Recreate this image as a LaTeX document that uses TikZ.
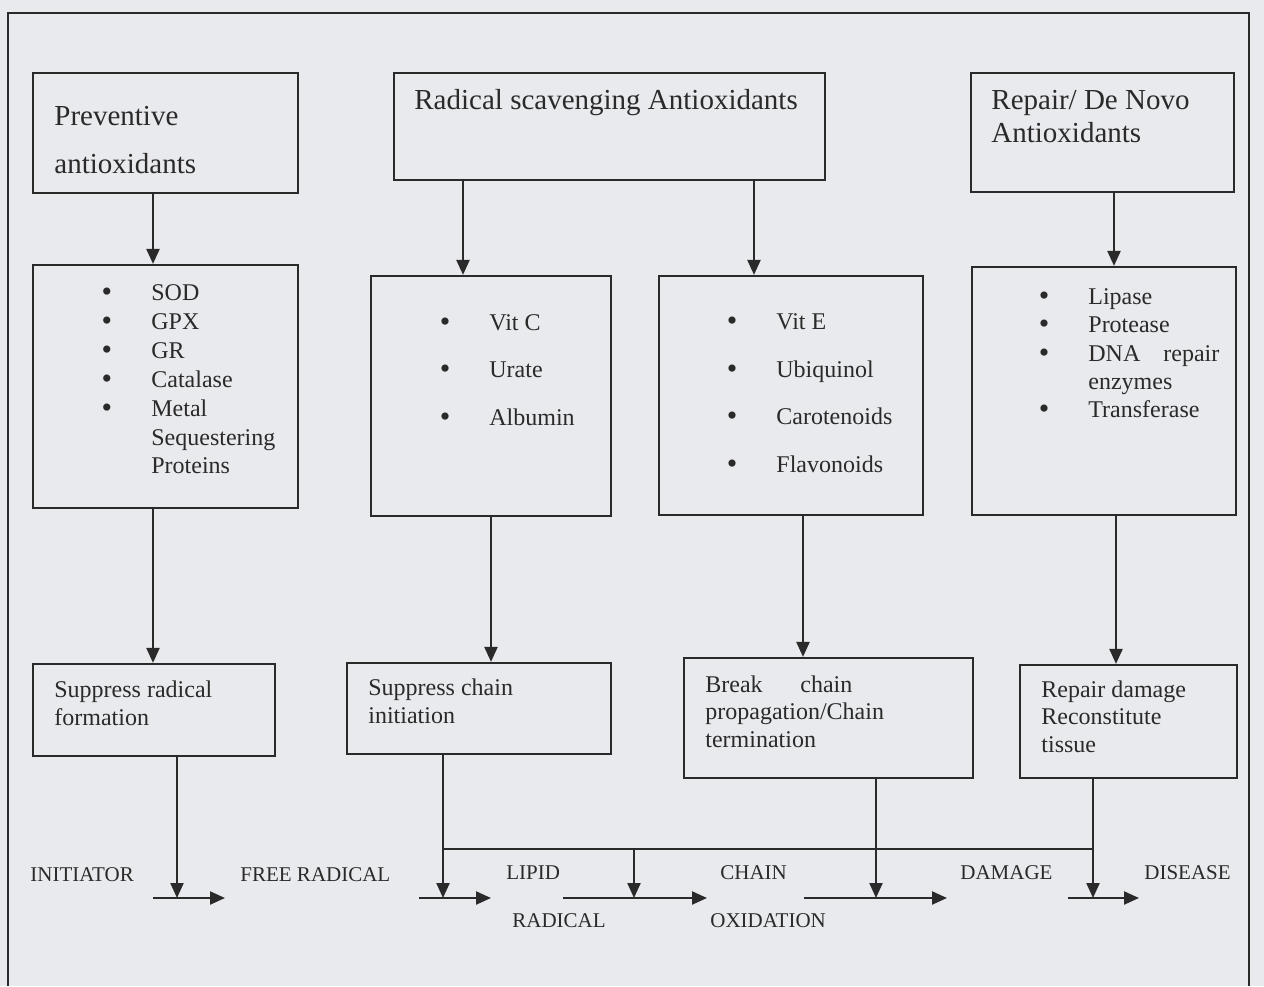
\documentclass[tikz,border=0pt]{standalone}
\usepackage{fontspec}
\setmainfont{Liberation Serif}
\usetikzlibrary{arrows.meta,fit}
\definecolor{bgc}{RGB}{233,234,237}
\definecolor{ink}{RGB}{42,42,42}
\begin{document}
\begin{tikzpicture}[x=0.5pt,y=-0.5pt,
  box/.style={draw=ink,line width=1.1pt,inner sep=0pt},
  hd/.style={anchor=base west,inner sep=0pt,text=ink,font=\fontsize{14.5}{17}\selectfont},
  tx/.style={anchor=base west,inner sep=0pt,text=ink,font=\fontsize{12}{14}\selectfont},
  bl/.style={anchor=base,inner sep=0pt,text=ink,font=\fontsize{15}{14}\selectfont},
  lb/.style={anchor=base west,inner sep=0pt,text=ink,font=\fontsize{10.5}{12}\selectfont},
  arr/.style={draw=ink,line width=1.1pt,-{Triangle[length=7.5pt,width=6.5pt]}},
  ln/.style={draw=ink,line width=1.1pt},
]
\useasboundingbox (0,0) rectangle (1264,986);
\fill[bgc] (0,0) rectangle (1264,986);
% outer frame
\draw[ln] (8,986) -- (8,13) -- (1249,13) -- (1249,986);

% ---------- boxes ----------
\node[box,fit={(33,73)(298,193)}] (pa) {};
\node[box,fit={(394,73)(825,180)}] (rs) {};
\node[box,fit={(971,73)(1234,192)}] (rd) {};
\node[box,fit={(33,265)(298,508)}] (sod) {};
\node[box,fit={(371,276)(611,516)}] (vc) {};
\node[box,fit={(659,276)(923,515)}] (ve) {};
\node[box,fit={(972,267)(1236,515)}] (lip) {};
\node[box,fit={(33,664)(275,756)}] (srf) {};
\node[box,fit={(347,663)(611,754)}] (sci) {};
\node[box,fit={(684,658)(973,778)}] (bcp) {};
\node[box,fit={(1020,665)(1237,778)}] (rdt) {};

% ---------- headings ----------
\node[hd] (pa1) at (54,125) {Preventive};
\node[hd] (pa2) at (54,173) {antioxidants};
\node[hd] (rs1) at (414,109) {Radical scavenging Antioxidants};
\node[hd] (rd1) at (991,109) {Repair/ De Novo};
\node[hd] (rd2) at (991,142) {Antioxidants};

% ---------- lists ----------
\foreach \t/\y [count=\i] in {SOD/300,GPX/329,GR/358,Catalase/387,Metal/416,Sequestering/445,Proteins/473}
  {\node[tx] (s\i) at (151,\y) {\t};}
\foreach \y [count=\i] in {300,329,358,387,416}
  {\node[bl] (sb\i) at (107,\y+1) {•};}

\foreach \t/\y [count=\i] in {Vit C/330,Urate/377,Albumin/425}
  {\node[tx] (c\i) at (489,\y) {\t};}
\foreach \y [count=\i] in {330,377,425}
  {\node[bl] (cb\i) at (445,\y+1) {•};}

\foreach \t/\y [count=\i] in {Vit E/329,Ubiquinol/377,Carotenoids/424,Flavonoids/472}
  {\node[tx] (e\i) at (776,\y) {\t};}
\foreach \y [count=\i] in {329,377,424,472}
  {\node[bl] (eb\i) at (732,\y+1) {•};}

\node[tx] (l1) at (1088,304) {Lipase};
\node[tx] (l2) at (1088,332) {Protease};
\node[tx] (l3) at (1088,361) {\makebox[65.5pt][s]{DNA repair}};
\node[tx] (l4) at (1088,389) {enzymes};
\node[tx] (l5) at (1088,417) {Transferase};
\foreach \y [count=\i] in {304,332,361,417}
  {\node[bl] (lb\i) at (1044,\y+1) {•};}

% ---------- effect boxes ----------
\node[tx] (f1) at (54,697) {Suppress radical};
\node[tx] (f2) at (54,725) {formation};
\node[tx] (g1) at (368,695) {Suppress chain};
\node[tx] (g2) at (368,723) {initiation};
\node[tx] (k1) at (705,692) {\makebox[73.5pt][s]{Break chain}};
\node[tx] (k2) at (705,719) {propagation/Chain};
\node[tx] (k3) at (705,747) {termination};
\node[tx] (r1) at (1041,697) {Repair damage};
\node[tx] (r2) at (1041,724) {Reconstitute};
\node[tx] (r3) at (1041,752) {tissue};

% ---------- bottom labels ----------
\node[lb] (q1) at (30,881) {INITIATOR};
\node[lb] (q2) at (240,881) {FREE RADICAL};
\node[lb] (q3) at (506,879) {LIPID};
\node[lb] (q4) at (512,927) {RADICAL};
\node[lb] (q5) at (720,879) {CHAIN};
\node[lb] (q6) at (710,927) {OXIDATION};
\node[lb] (q7) at (960,879) {DAMAGE};
\node[lb] (q8) at (1144,879) {DISEASE};

% ---------- x references ----------
\coordinate (x1) at (153,0);
\coordinate (x2) at (463,0);
\coordinate (x3) at (754,0);
\coordinate (x4) at (1114,0);
\coordinate (x5) at (491,0);
\coordinate (x6) at (803,0);
\coordinate (x7) at (1116,0);

% ---------- vertical arrows ----------
\draw[arr] (pa.south -| x1) -- (sod.north -| x1);
\draw[arr] (rs.south -| x2) -- (vc.north -| x2);
\draw[arr] (rs.south -| x3) -- (ve.north -| x3);
\draw[arr] (rd.south -| x4) -- (lip.north -| x4);
\draw[arr] (sod.south -| x1) -- (srf.north -| x1);
\draw[arr] (vc.south -| x5) -- (sci.north -| x5);
\draw[arr] (ve.south -| x6) -- (bcp.north -| x6);
\draw[arr] (lip.south -| x7) -- (rdt.north -| x7);

% ---------- reaction chain ----------
\coordinate (h1a) at (153,898); \coordinate (h1b) at (225,898);
\coordinate (h2a) at (419,898); \coordinate (h2b) at (491,898);
\coordinate (h3a) at (563,898); \coordinate (h3b) at (707,898);
\coordinate (h4a) at (804,898); \coordinate (h4b) at (947,898);
\coordinate (h5a) at (1068,898); \coordinate (h5b) at (1139,898);
\draw[arr] (h1a) -- (h1b);
\draw[arr] (h2a) -- (h2b);
\draw[arr] (h3a) -- (h3b);
\draw[arr] (h4a) -- (h4b);
\draw[arr] (h5a) -- (h5b);

\coordinate (t1) at (177,898);
\coordinate (t2) at (443,898);
\coordinate (t3) at (634,898);
\coordinate (t4) at (876,898);
\coordinate (t5) at (1093,898);
\coordinate (jL) at (443,849);
\coordinate (jR) at (1093,849);

\draw[arr] (srf.south -| t1) -- (t1);
\draw[arr] (sci.south -| t2) -- (t2);
\draw[ln] (jL) -- (jR);
\draw[arr] (jL -| t3) -- (t3);
\draw[arr] (bcp.south -| t4) -- (t4);
\draw[arr] (rdt.south -| t5) -- (t5);
\end{tikzpicture}
\end{document}
